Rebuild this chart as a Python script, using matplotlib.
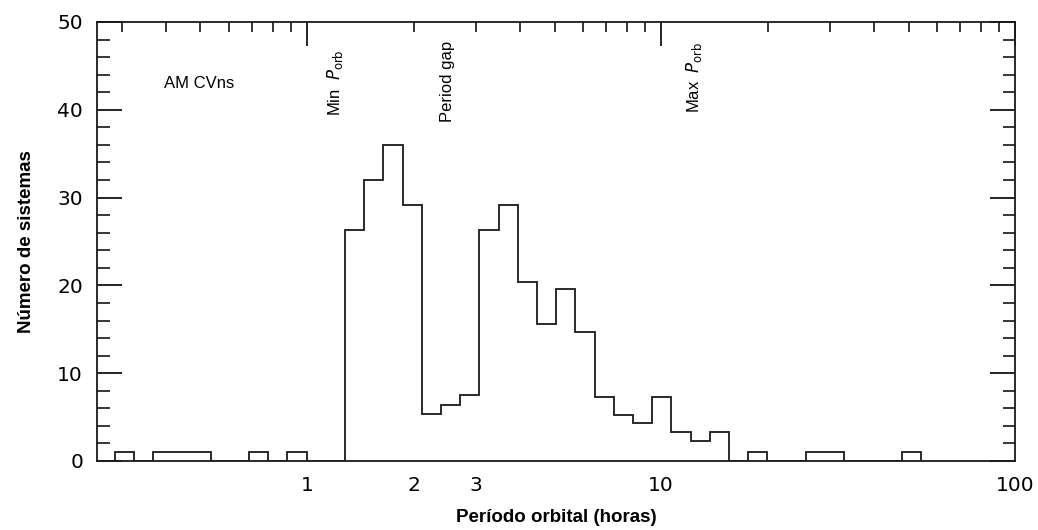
import numpy as np
import matplotlib
matplotlib.use('Agg')
import matplotlib.pyplot as plt
from matplotlib.ticker import FixedLocator, FuncFormatter, NullFormatter

plt.rcParams['font.family'] = ['Liberation Sans', 'DejaVu Sans']

# bin edges (hours), equal width in log period
bin_edges = [0.2863, 0.3244, 0.3675, 0.4164, 0.4717, 0.5344, 0.6054, 0.6860,
             0.7772, 0.8805, 0.9975, 1.1301, 1.2803, 1.4505, 1.6433, 1.8618,
             2.1093, 2.3897, 2.7074, 3.0673, 3.4751, 3.9370, 4.4604, 5.0534,
             5.7252, 6.4863, 7.3486, 8.3255, 9.4324, 10.686, 12.107, 13.716,
             15.540, 17.605, 19.946, 22.597, 25.602, 29.005, 32.861, 37.229,
             42.178, 47.785, 54.138]
# number of systems per bin
counts = [1, 0, 1, 1, 1, 0, 0, 1, 0, 1, 0, 0,
          26.3, 32, 36, 29.2, 5.3, 6.4, 7.5, 26.3, 29.2, 20.4, 15.6, 19.6,
          14.7, 7.3, 5.2, 4.3, 7.3, 3.3, 2.3, 3.3, 0,
          1, 0, 0, 1, 1, 0, 0, 0, 1]

tick_vals = [1, 2, 3, 10, 100]

fig = plt.figure(figsize=(10.38, 5.30), dpi=100)
ax = fig.add_axes([0.0934, 0.1302, 0.8846, 0.8283])

ax.stairs(counts, bin_edges, color='#1a1a1a', linewidth=1.3, baseline=0)

ax.set_xscale('log')
ax.set_xlim(0.255, 100)
ax.set_ylim(0, 50)

# major ticks at decades, minor in between; only 2 and 3 labelled among minors
ax.xaxis.set_major_locator(FixedLocator([1, 10, 100]))
ax.xaxis.set_major_formatter(FuncFormatter(lambda v, p: '%g' % v))
minors = [m * 10.0 ** e for e in (-1, 0, 1) for m in range(2, 10)]
ax.xaxis.set_minor_locator(FixedLocator(minors))
ax.xaxis.set_minor_formatter(FuncFormatter(
    lambda v, p: '%g' % v if round(v, 6) in tick_vals else ''))

ax.set_yticks([0, 10, 20, 30, 40, 50])
ax.yaxis.set_minor_locator(FixedLocator(np.arange(0, 51, 2)))
ax.yaxis.set_minor_formatter(NullFormatter())

ax.tick_params(axis='x', which='both', direction='in', bottom=False, top=True,
               labelbottom=True, labelsize=14.5, pad=11)
ax.tick_params(axis='x', which='major', length=17, width=1.2)
ax.tick_params(axis='x', which='minor', length=7, width=1.1)
ax.tick_params(axis='y', which='both', direction='in', left=True, right=True,
               labelsize=14.5, pad=10)
ax.tick_params(axis='y', which='major', length=18, width=1.2)
ax.tick_params(axis='y', which='minor', length=9, width=1.1)

# tick digits are wider in the original, DejaVu fits better
for lab in ax.get_xticklabels(which='both') + ax.get_yticklabels():
    lab.set_family('DejaVu Sans')

for s in ax.spines.values():
    s.set_linewidth(1.3)
    s.set_color('#1a1a1a')

ax.set_xlabel('Período orbital (horas)', fontsize=13.5, fontweight='bold', labelpad=10)
ax.set_ylabel('Número de sistemas', fontsize=13.5, fontweight='bold', labelpad=16)

# labels in the plot
ax.text(0.494, 43.0, 'AM CVns', fontsize=12, ha='center', va='center')
ax.text(1.20, 39.3, r'Min  $P_{\rm orb}$', fontsize=12, rotation=90,
        ha='center', va='bottom')
ax.text(2.49, 38.6, 'Period gap', fontsize=12, rotation=90,
        ha='center', va='bottom')
ax.text(12.4, 39.6, r'Max  $P_{\rm orb}$', fontsize=12, rotation=90,
        ha='center', va='bottom')

plt.savefig('out.png', dpi=100)
